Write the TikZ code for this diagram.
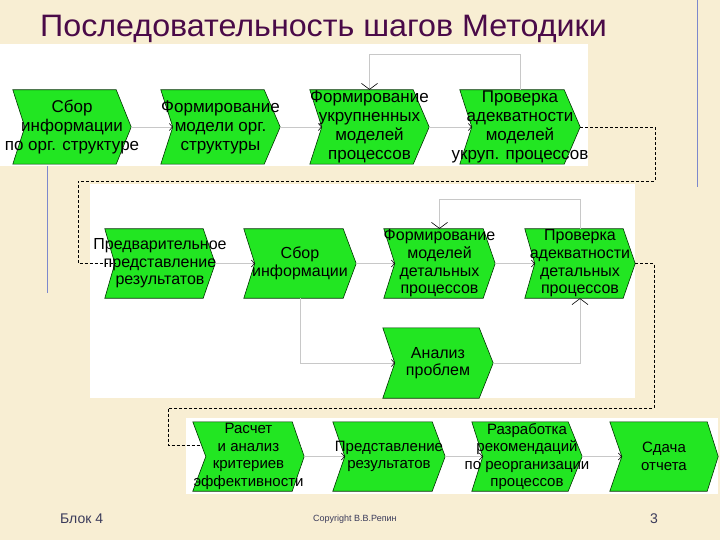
\documentclass[tikz,border=0pt]{standalone}
\usepackage{fontspec}
\usepackage{graphicx}
\setmainfont{Liberation Sans}
\usetikzlibrary{arrows.meta,fit,calc}
\definecolor{bg}{HTML}{F8EED3}
\definecolor{chgreen}{HTML}{22E622}
\definecolor{titlec}{HTML}{4A0A48}
\definecolor{footc}{HTML}{3A3A5A}
\definecolor{bluel}{HTML}{7D88CC}
\definecolor{connc}{HTML}{C8C8C8}
\newcommand{\chev}[7]{%
  \node[fit={(#2,#4) (#3,#5)}, inner sep=0pt] (#1) {};
  \filldraw[chevshape] (#1.north west) -- ([xshift=-#6pt]#1.north east) -- (#1.east)
    -- ([xshift=-#6pt]#1.south east) -- (#1.south west) -- ([xshift=#7pt]#1.west) coordinate (#1n) -- cycle;
}
\tikzset{
  chevshape/.style={fill=chgreen, draw=black!80!green, line width=0.6pt},
  tone/.style={font=\fontsize{17pt}{19pt}\selectfont, align=center, text=black, inner sep=0pt},
  ttwo/.style={font=\fontsize{16pt}{17.6pt}\selectfont, align=center, text=black, inner sep=0pt},
  tthree/.style={font=\fontsize{15pt}{17.6pt}\selectfont, align=center, text=black, inner sep=0pt},
  conn/.style={draw=connc, line width=0.7pt, -{Straight Barb[length=3pt,width=7pt,color=black,line width=0.6pt]}},
  connv/.style={draw=connc, line width=0.7pt, -{Straight Barb[length=6pt,width=16pt,color=black,line width=0.6pt]}},
  dsh/.style={draw=black, line width=0.8pt, dash pattern=on 3pt off 2pt},
  foot/.style={text=footc, inner sep=0pt, anchor=base west}
}
\begin{document}
\begin{tikzpicture}[x=1pt,y=-1pt]
\useasboundingbox (0,0) rectangle (720,540);
\fill[bg] (0,0) rectangle (720,540);
% white panels
\fill[white] (0,44) rectangle (588,166);
\fill[white] (90,184) rectangle (635,398);
\fill[white] (186,418) rectangle (718,494);
% blue guide lines
\draw[bluel, line width=0.8pt] (47,166) -- (47,293);
\draw[bluel, line width=0.8pt] (697,0) -- (697,187);
% title
\node[anchor=base west, font=\fontsize{31pt}{36pt}\selectfont, text=titlec, inner sep=0pt] (title) at (40,37) {\scalebox{1.04}[1]{Последовательность шагов Методики}};
% chevrons row 1
\chev{s1}{13}{131}{90}{164}{15}{12}
\chev{s2}{161}{280}{90}{164}{16}{12}
\chev{s3}{310}{429}{90}{164}{16}{12}
\chev{s4}{460}{580}{90}{164}{16}{12}
% row 2
\chev{s5}{105}{215}{229}{298}{12}{10}
\chev{s6}{244}{356}{229}{298}{13}{11}
\chev{s7}{384}{495}{229}{298}{12}{11}
\chev{s8}{525}{635}{229}{298}{12}{10}
\chev{s9}{383}{493}{328}{398}{14}{12}
% row 3
\chev{s10}{193}{304}{422}{491}{12}{13}
\chev{s11}{333}{445}{422}{491}{13}{12}
\chev{s12}{472}{582}{422}{491}{14}{11}
\chev{s13}{610}{718}{422}{491}{11}{12}
% connectors
\draw[conn] (s1.east) -- (s2n);
\draw[conn] (s2.east) -- (s3n);
\draw[conn] (s3.east) -- (s4n);
\draw[connv] (s4.north) -- ([yshift=35pt]s4.north) -| (s3.north);
\draw[conn] (s5.east) -- (s6n);
\draw[conn] (s6.east) -- (s7n);
\draw[conn] (s7.east) -- (s8n);
\draw[connv] (s8.north) -- ([yshift=29pt]s8.north) -| (s7.north);
\draw[conn] (s6.south) |- (s9n);
\draw[connv] (s9.east) -| (s8.south);
\draw[conn] (s10.east) -- (s11n);
\draw[conn] (s11.east) -- (s12n);
\draw[conn] (s12.east) -- (s13n);
% dashed transitions
\coordinate (d1a) at (655,181);
\coordinate (d1b) at (78,181);
\draw[dsh] (s4.east) -| (d1a) -- (d1b) |- (s5n);
\coordinate (d2a) at (654,408);
\coordinate (d2b) at (168,408);
\coordinate (d2c) at (201,445);
\draw[dsh] (s8.east) -| (d2a) -- (d2b) |- (d2c);
% texts
\node[tone] (t1) at (s1) {Сбор\\информации\\по орг. структуре};
\node[tone] (t2) at (s2) {Формирование\\модели орг.\\структуры};
\node[tone] (t3) at (s3) {Формирование\\укрупненных\\моделей\\процессов};
\node[tone] (t4) at (s4) {Проверка\\адекватности\\моделей\\укруп. процессов};
\node[ttwo] (t5) at (s5) {Предварительное\\представление\\результатов};
\node[ttwo] (t6) at (s6) {Сбор\\информации};
\node[ttwo] (t7) at (s7) {Формирование\\моделей\\детальных\\процессов};
\node[ttwo] (t8) at (s8) {Проверка\\адекватности\\детальных\\процессов};
\node[ttwo] (t9) at (s9) {Анализ\\проблем};
\node[tthree] (t10) at (s10) {Расчет\\и анализ\\критериев\\эффективности};
\node[tthree] (t11) at (s11) {Представление\\результатов};
\node[tthree] (t12) at (s12) {Разработка\\рекомендаций\\по реорганизации\\процессов};
\node[tthree] (t13) at (s13) {Сдача\\отчета};
% footer
\node[foot, font=\fontsize{14pt}{16pt}\selectfont] (f1) at (60,523) {Блок 4};
\node[foot, font=\fontsize{9pt}{11pt}\selectfont] (f2) at (313,521) {Copyright В.В.Репин};
\node[foot, font=\fontsize{14pt}{16pt}\selectfont] (f3) at (650,523) {3};
\end{tikzpicture}
\end{document}
